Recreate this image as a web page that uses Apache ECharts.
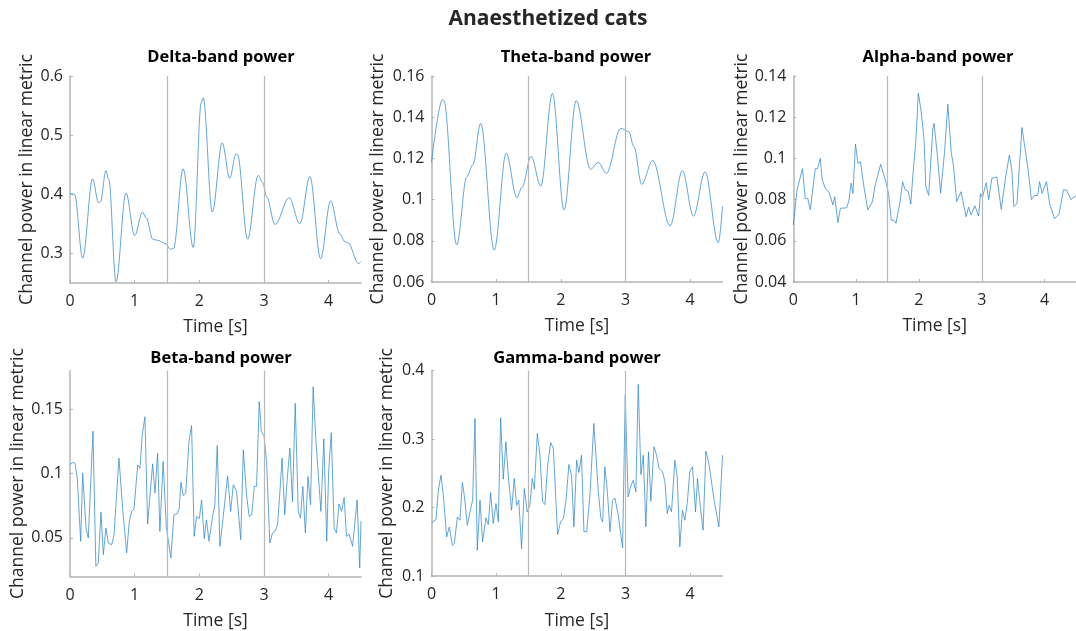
<!DOCTYPE html>
<html>
<head>
<meta charset="utf-8">
<script src="https://cdn.jsdelivr.net/npm/echarts@6/dist/echarts.min.js"></script>
<style>html,body{margin:0;padding:0;background:#fff}#c{width:1076px;height:631px}</style>
</head>
<body>
<div id="c"></div>
<script>
// ---- data ----
const xTicks = [0, 1, 2, 3, 4];
const markTimes = [1.5, 3];

const deltaT = [0,0.07,0.196,0.35,0.44,0.47,0.556,0.6,0.711,0.866,1.0,1.12,1.18,1.28,1.36,1.47,1.556,1.6,1.75,1.906,2.03,2.06,2.2,2.354,2.47,2.566,2.59,2.746,2.91,2.98,3.04,3.17,3.39,3.555,3.71,3.875,4.03,4.17,4.25,4.30,4.46,4.5];
const deltaV = [0.402,0.40,0.292,0.426,0.386,0.387,0.44,0.425,0.252,0.402,0.33,0.370,0.36,0.324,0.322,0.317,0.307,0.308,0.443,0.31,0.555,0.563,0.37,0.487,0.427,0.468,0.467,0.324,0.432,0.42,0.396,0.349,0.394,0.35,0.43,0.291,0.389,0.334,0.32,0.318,0.283,0.286];
const deltaTicks = [0.3, 0.4, 0.5, 0.6];

const thetaT = [0,0.173,0.19,0.39,0.546,0.64,0.76,0.97,1.155,1.32,1.4,1.54,1.69,1.87,2.05,2.237,2.46,2.577,2.705,2.926,3.05,3.13,3.25,3.42,3.69,3.88,4.05,4.23,4.435,4.5];
const thetaV = [0.118,0.1487,0.148,0.078,0.111,0.117,0.137,0.0755,0.1225,0.101,0.106,0.121,0.1066,0.1516,0.095,0.148,0.1147,0.118,0.1128,0.1346,0.133,0.1257,0.1074,0.119,0.0873,0.114,0.092,0.1135,0.079,0.0966];
const thetaTicks = [0.06, 0.08, 0.1, 0.12, 0.14, 0.16];

const alphaT = [0,0.06,0.145,0.19,0.23,0.27,0.35,0.385,0.43,0.46,0.516,0.57,0.6,0.63,0.66,0.71,0.75,0.78,0.85,0.887,0.92,0.95,0.99,1.03,1.07,1.12,1.185,1.26,1.30,1.39,1.48,1.52,1.56,1.60,1.634,1.70,1.74,1.78,1.83,1.87,1.91,1.95,1.99,2.03,2.08,2.11,2.155,2.22,2.24,2.29,2.345,2.41,2.46,2.515,2.55,2.60,2.63,2.67,2.75,2.79,2.83,2.89,2.95,2.98,3.01,3.07,3.11,3.16,3.24,3.31,3.38,3.44,3.48,3.51,3.56,3.64,3.67,3.74,3.79,3.84,3.89,3.92,3.96,4.03,4.08,4.11,4.16,4.23,4.30,4.35,4.42,4.5];
const alphaV = [0.0677,0.0847,0.095,0.0806,0.0806,0.075,0.095,0.095,0.100,0.0895,0.085,0.0836,0.083,0.0774,0.0814,0.0688,0.0758,0.076,0.076,0.0798,0.088,0.083,0.107,0.0975,0.0984,0.087,0.075,0.079,0.0865,0.0971,0.088,0.082,0.070,0.070,0.0685,0.079,0.0887,0.0847,0.084,0.0778,0.0944,0.108,0.1316,0.124,0.1098,0.0863,0.082,0.1138,0.117,0.1025,0.0831,0.104,0.1263,0.1025,0.0966,0.079,0.0785,0.0838,0.0717,0.0764,0.0725,0.077,0.072,0.083,0.081,0.0882,0.080,0.0903,0.091,0.0753,0.091,0.1017,0.094,0.0766,0.078,0.115,0.115,0.094,0.080,0.082,0.082,0.0887,0.083,0.0887,0.078,0.078,0.0707,0.073,0.0847,0.0847,0.08,0.082];
const alphaTicks = [0.04, 0.06, 0.08, 0.1, 0.12, 0.14];

const betaT = [0,0.04,0.077,0.113,0.165,0.196,0.247,0.283,0.355,0.40,0.438,0.479,0.515,0.556,0.592,0.644,0.68,0.71,0.757,0.814,0.876,0.917,0.953,0.99,1.046,1.082,1.118,1.159,1.20,1.236,1.278,1.314,1.355,1.39,1.44,1.49,1.56,1.607,1.66,1.69,1.716,1.75,1.79,1.84,1.88,1.92,1.958,2.0,2.035,2.076,2.11,2.15,2.205,2.24,2.277,2.318,2.37,2.437,2.484,2.525,2.576,2.64,2.68,2.73,2.77,2.81,2.85,2.885,2.926,2.96,3.0,3.04,3.09,3.13,3.17,3.21,3.25,3.28,3.32,3.36,3.40,3.44,3.483,3.53,3.564,3.6,3.64,3.68,3.72,3.76,3.80,3.84,3.88,3.925,3.97,4.0,4.04,4.085,4.12,4.16,4.2,4.24,4.276,4.317,4.37,4.44,4.48,4.5];
const betaV = [0.107,0.1086,0.108,0.0964,0.0474,0.1003,0.0577,0.0499,0.133,0.028,0.0306,0.070,0.037,0.0577,0.046,0.0447,0.052,0.0505,0.112,0.0732,0.0383,0.0629,0.0706,0.0724,0.1068,0.1042,0.1306,0.1442,0.0608,0.0822,0.1076,0.0848,0.1158,0.0551,0.1094,0.058,0.0344,0.068,0.069,0.0732,0.0933,0.083,0.0848,0.1254,0.1373,0.0512,0.0667,0.065,0.0796,0.0494,0.064,0.0474,0.0667,0.0758,0.1218,0.0435,0.0667,0.0983,0.0706,0.0913,0.0866,0.0486,0.1184,0.0835,0.0667,0.068,0.09,0.09,0.1559,0.1326,0.1295,0.1094,0.046,0.0538,0.0551,0.0603,0.0887,0.112,0.068,0.0964,0.1197,0.0783,0.1546,0.0706,0.0654,0.09,0.0538,0.0977,0.0758,0.1675,0.1275,0.099,0.0706,0.127,0.0474,0.1016,0.1318,0.0577,0.0538,0.0763,0.0706,0.0815,0.0512,0.053,0.0435,0.0796,0.0267,0.063];
const betaTicks = [0.05, 0.1, 0.15];

const gammaT = [0,0.028,0.07,0.106,0.147,0.183,0.234,0.276,0.322,0.353,0.4,0.44,0.477,0.507,0.554,0.595,0.636,0.672,0.708,0.75,0.79,0.842,0.878,0.915,0.955,0.997,1.033,1.069,1.11,1.15,1.186,1.238,1.28,1.316,1.35,1.393,1.435,1.48,1.522,1.558,1.59,1.636,1.677,1.718,1.754,1.795,1.842,1.884,1.95,1.996,2.04,2.08,2.125,2.166,2.202,2.244,2.28,2.32,2.357,2.4,2.45,2.51,2.58,2.62,2.647,2.68,2.72,2.76,2.8,2.836,2.888,2.913,2.955,2.996,3.04,3.078,3.12,3.16,3.197,3.238,3.275,3.315,3.356,3.392,3.44,3.48,3.52,3.573,3.61,3.645,3.676,3.712,3.763,3.8,3.84,3.88,3.918,3.954,3.995,4.036,4.083,4.113,4.16,4.2,4.243,4.294,4.366,4.444,4.5];
const gammaV = [0.178,0.1768,0.183,0.2256,0.2475,0.2182,0.1573,0.172,0.1451,0.1476,0.1866,0.1817,0.2368,0.2182,0.1744,0.1939,0.2109,0.3303,0.1378,0.2109,0.15,0.1851,0.1754,0.2221,0.1768,0.206,0.1793,0.3313,0.2416,0.2962,0.2475,0.1963,0.2426,0.2036,0.2109,0.1403,0.228,0.1939,0.2036,0.2426,0.227,0.3084,0.2767,0.2085,0.2046,0.2597,0.2952,0.2865,0.1607,0.1793,0.1841,0.2109,0.2631,0.2475,0.172,0.2694,0.2514,0.2767,0.165,0.165,0.2182,0.323,0.2231,0.1841,0.1793,0.2597,0.2231,0.165,0.2109,0.2143,0.189,0.189,0.1412,0.3644,0.2158,0.2304,0.2401,0.2231,0.38,0.2485,0.2767,0.172,0.2816,0.2095,0.289,0.2767,0.2572,0.2524,0.2378,0.1914,0.2036,0.1939,0.2694,0.245,0.1427,0.1963,0.1817,0.206,0.2524,0.2597,0.1939,0.2426,0.1988,0.1671,0.2826,0.2621,0.2134,0.172,0.2767];
const gammaTicks = [0.1, 0.2, 0.3, 0.4];

// ---- layout ----
const FONT = 'Open Sans';
const TXT = '#262626';
const AX = '#b4b4b4';
const panels = [
  {title:'Delta-band power', t:deltaT, v:deltaV, ticks:deltaTicks, min:0.25, max:0.6, left:70,    top:76,    w:291, h:207,   gap:34,   tx:221, ty:49, smooth:true},
  {title:'Theta-band power', t:thetaT, v:thetaV, ticks:thetaTicks, min:0.06, max:0.16, left:431.5, top:76,    w:291, h:206,   gap:44.5, tx:576, ty:49, smooth:true},
  {title:'Alpha-band power', t:alphaT, v:alphaV, ticks:alphaTicks, min:0.04, max:0.14, left:793.3, top:76,    w:291, h:206,   gap:38,   tx:938, ty:49, smooth:false},
  {title:'Beta-band power',  t:betaT,  v:betaV,  ticks:betaTicks,  min:0.02, max:0.18, left:70,    top:370.7, w:291, h:206,   gap:43,   tx:221, ty:350, smooth:false},
  {title:'Gamma-band power', t:gammaT, v:gammaV, ticks:gammaTicks, min:0.1,  max:0.4,  left:431.5, top:370.7, w:291, h:205.5, gap:35.5, tx:577, ty:350, smooth:false}
];

const titles = [{text:'Anaesthetized cats', left:548, top:8.5, textAlign:'center', padding:0,
  textStyle:{fontFamily:FONT, fontSize:21, fontWeight:'bold', color:TXT}}];
const grids = [], xAxes = [], yAxes = [], series = [];
panels.forEach((p, i) => {
  titles.push({text:p.title, left:p.tx, top:p.ty, textAlign:'center', padding:0,
    textStyle:{fontFamily:FONT, fontSize:16.5, fontWeight:'bold', color:'#000'}});
  grids.push({left:p.left, top:p.top, width:p.w, height:p.h, containLabel:false});
  xAxes.push({type:'value', gridIndex:i, min:0, max:4.5,
    name:'Time [s]', nameLocation:'middle', nameGap:35.5,
    nameTextStyle:{fontFamily:FONT, fontSize:17.5, color:TXT},
    axisLine:{show:true, lineStyle:{color:AX, width:1.5}},
    axisTick:{show:true, inside:true, length:3, customValues:xTicks, lineStyle:{color:AX}},
    axisLabel:{customValues:xTicks, fontFamily:FONT, fontSize:16, color:TXT, margin:10.5},
    splitLine:{show:false}});
  yAxes.push({type:'value', gridIndex:i, min:p.min, max:p.max,
    name:'Channel power in linear metric', nameLocation:'middle', nameGap:p.gap, nameRotate:90,
    nameTextStyle:{fontFamily:FONT, fontSize:17.5, color:TXT},
    axisLine:{show:true, lineStyle:{color:AX, width:1.5}},
    axisTick:{show:true, inside:true, length:3, customValues:p.ticks, lineStyle:{color:AX}},
    axisLabel:{customValues:p.ticks, fontFamily:FONT, fontSize:16, color:TXT, margin:7},
    splitLine:{show:false}});
  series.push({type:'line', xAxisIndex:i, yAxisIndex:i,
    data:p.t.map((t, k) => [t, p.v[k]]),
    showSymbol:false, symbol:'none', smooth:p.smooth ? 0.35 : false, smoothMonotone:'x',
    lineStyle:{color:'#2f88cc', width:0.75}, animation:false,
    markLine:{silent:true, symbol:'none', label:{show:false}, animation:false,
      lineStyle:{color:'#b8b8b8', type:'solid', width:1.2},
      data:markTimes.map(x => ({xAxis:x}))}});
});

const chart = echarts.init(document.getElementById('c'), null, {renderer:'canvas'});
chart.setOption({animation:false, title:titles, grid:grids, xAxis:xAxes, yAxis:yAxes, series:series});
</script>
</body>
</html>
